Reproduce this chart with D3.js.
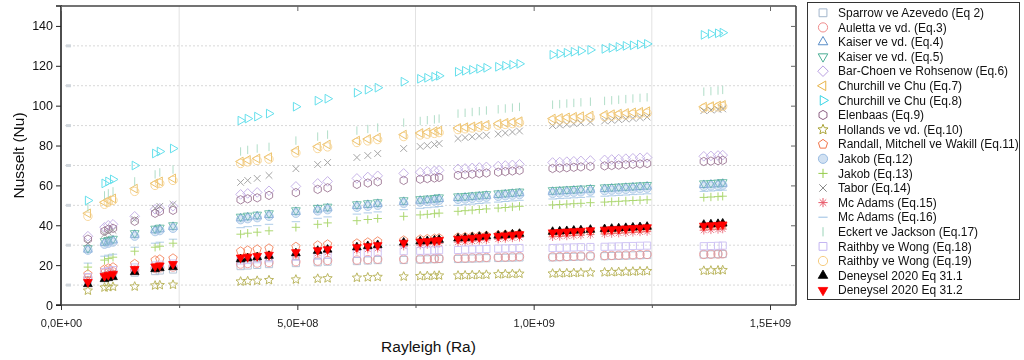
<!DOCTYPE html>
<html><head><meta charset="utf-8">
<script src="https://cdn.jsdelivr.net/npm/d3@7"></script>
<style>body{margin:0;background:#fff}svg{font-family:"Liberation Sans",Arial,sans-serif}</style>
</head><body><svg id="c" width="1024" height="360"></svg>
<script>
// ---- data ----
const rayleigh = [5.7e7, 9.2e7,1.0e8,1.1e8, 1.56e8, 1.99e8,2.09e8, 2.37e8, 3.8e8,3.95e8,4.15e8,4.4e8, 4.97e8, 5.43e8,5.64e8, 6.26e8,6.49e8,6.7e8, 7.25e8,7.6e8,7.75e8,7.9e8,8.0e8, 8.4e8,8.55e8,8.7e8,8.85e8,9.0e8,9.25e8,9.4e8,9.55e8,9.7e8, 1.04e9,1.055e9,1.07e9,1.085e9,1.1e9,1.12e9,1.15e9,1.165e9,1.18e9,1.195e9,1.21e9,1.225e9,1.24e9, 1.36e9,1.375e9,1.39e9,1.40e9];

const sparrowEq2 = [12.5, 14.5,15,15.3, 16.2, 17,17.3, 17.8, 19.5,19.8,20.1,20.5, 21, 21.4,21.7, 22,22.3,22.5, 22.6,22.8,22.9,23,23.1, 23.1,23.2,23.3,23.4,23.5,23.6,23.7,23.8,23.9, 23.9,24,24.1,24.2,24.3,24.4,24.5,24.6,24.7,24.8,24.9,25,25.1, 25.3,25.4,25.5,25.6];
const aulettaEq3 = [13.5, 16,16.3,16.6, 17.5, 18.3,18.6, 19, 20.5,20.8,21,21.3, 21.7, 22,22.3, 22.6,22.8,23, 23,23.1,23.2,23.3,23.4, 23.5,23.6,23.7,23.8,23.9,24,24.1,24.2,24.3, 24.2,24.3,24.4,24.5,24.6,24.7,24.8,24.9,25,25.1,25.2,25.3,25.4, 25.4,25.5,25.6,25.7];
const kaiserEq4 = [27.8, 31.2,31.8,32.4, 35.2, 37.5,38, 39.2, 43.5,44,44.5,45.2, 46.7, 47.9,48.5, 49.7,50.2,50.7, 51.7,52.3,52.6,52.9,53.2, 53.7,53.9,54.2,54.5,54.8,55.2,55.5,55.8,56.1, 56.8,57,57.2,57.4,57.6,57.9,58.2,58.4,58.6,58.8,59,59.2,59.4, 60.2,60.4,60.6,60.8];
const kaiserEq5 = [28.5, 32,32.6,33.2, 36, 38.3,38.8, 40, 44.3,44.8,45.3,46, 47.5, 48.7,49.3, 50.5,51,51.5, 52.5,53.1,53.4,53.7,54, 54.5,54.7,55,55.3,55.6,56,56.3,56.6,56.9, 57.6,57.8,58,58.2,58.4,58.7,59,59.2,59.4,59.6,59.8,60,60.2, 61,61.2,61.4,61.6];
const barChoenEq6 = [34.5, 39,40,40.5, 44.5, 48,48.5, 49.5, 55.5,56,56.5,57.3, 59.5, 61,62, 63.5,64.2,64.8, 66,66.6,67,67.3,67.6, 68.3,68.5,68.8,69,69.3,69.7,70,70.3,70.6, 71.5,71.7,71.9,72.1,72.3,72.5,72.8,73,73.2,73.4,73.6,73.8,74, 74.6,74.8,75,75.2];
const churchillEq7 = [46, 51.5,52.5,53.5, 58.4, 61,62, 63.5, 72,72.8,73.5,74.2, 77.5, 79.5,80.5, 82.5,83.3,84, 85.5,86.3,86.7,87.2,87.5, 88.8,89.2,89.6,90,90.4,91,91.4,91.8,92.2, 93.5,93.8,94.1,94.4,94.7,95,95.4,95.7,96,96.3,96.6,96.9,97.2, 99.5,99.8,100.1,100.4];
const churchillEq8 = [52.4, 61,62,63, 70, 76,77, 78.5, 92.5,93.5,94.5,96, 99.5, 102.5,103.5, 106.5,108,109, 112,113.5,114,114.5,115, 117,117.5,118,118.5,119,119.5,120,120.5,121, 125.5,126,126.5,127,127.5,128,128.5,129,129.5,130,130.3,130.7,131, 135.5,136,136.3,136.6];
const elenbaasEq9 = [33, 37,38,38.5, 42, 46,47, 47.5, 52.8,53.3,53.8,55, 56.4, 58,58.8, 60.5,61.2,61.8, 62.5,63.1,63.4,63.7,64, 65,65.3,65.6,65.9,66.2,66.6,66.9,67.2,67.5, 68.5,68.7,68.9,69.1,69.3,69.5,69.8,70,70.2,70.4,70.6,70.8,71, 72,72.2,72.4,72.6];
const hollandsEq10 = [7.2, 8.8,9,9.2, 9.3, 9.8,10, 10.2, 11.8,12,12.2,12.5, 12.8, 13.2,13.4, 13.7,13.9,14.1, 14.3,14.5,14.6,14.7,14.8, 14.8,14.9,15,15.1,15.2,15.4,15.5,15.6,15.7, 15.8,15.9,16,16.1,16.2,16.3,16.4,16.5,16.6,16.7,16.8,16.9,17, 17.2,17.3,17.4,17.5];
const randallEq11 = [15.5, 18,18.5,19, 20.7, 22.5,23, 23.5, 27,27.5,28,28.5, 29.3, 30,30.5, 31,31.5,32, 32.5,33,33.2,33.4,33.6, 34,34.2,34.4,34.6,34.8,35.1,35.3,35.5,35.7, 36,36.2,36.4,36.6,36.8,37,37.3,37.5,37.7,37.9,38.1,38.3,38.5, 39.5,39.7,39.9,40.1];
const jakobEq12 = [27.5, 30.5,31,31.6, 34.5, 36.8,37.3, 38.5, 42.8,43.3,43.8,44.5, 46, 47.2,47.8, 49,49.5,50, 51,51.6,51.9,52.2,52.5, 53,53.2,53.5,53.8,54.1,54.5,54.8,55.1,55.4, 56,56.2,56.4,56.6,56.8,57.1,57.4,57.6,57.8,58,58.2,58.4,58.6, 59.5,59.7,59.9,60.1];
const jakobEq13 = [19, 22.5,23.3,24, 27, 29,29.5, 31, 35.5,36,36.5,37.2, 39, 40.5,41.2, 42.3,42.9,43.4, 44.5,45.2,45.5,45.8,46.1, 47,47.3,47.6,47.9,48.2,48.6,48.9,49.2,49.5, 50.2,50.4,50.6,50.8,51,51.3,51.6,51.8,52,52.2,52.4,52.6,52.8, 54,54.2,54.4,54.6];
const taborEq14 = [31, 35.5,36.5,37.5, 43, 48.5,49.5, 50.5, 61.5,62.5,63.5,65, 68.4, 70.5,71.5, 74,75,76, 78.5,79.5,80,80.5,81, 83.5,84,84.4,84.8,85.2,85.8,86.3,86.8,87.3, 90,90.3,90.6,91,91.4,91.8,92.3,92.6,93,93.3,93.6,94,94.3, 97.5,97.8,98.1,98.4];
const mcAdamsEq15 = [12.5, 15,15.5,16, 17.5, 19,19.5, 20, 22.8,23.2,23.6,24.2, 25.2, 26,26.5, 27.5,28,28.4, 29.5,30,30.3,30.6,30.9, 31.5,31.7,32,32.3,32.6,33,33.3,33.6,33.9, 34.2,34.4,34.6,34.8,35,35.3,35.6,35.8,36,36.2,36.4,36.6,36.8, 37.5,37.7,37.9,38.1];
const mcAdamsEq16 = [21, 24.5,25,25.5, 29, 31,31.5, 33, 38.8,39.3,39.8,40.5, 41.8, 43.5,44.2, 45.6,46.2,46.7, 47.8,48.5,48.8,49.1,49.4, 50,50.3,50.6,50.9,51.2,51.6,51.9,52.2,52.5, 53.2,53.4,53.6,53.8,54,54.3,54.6,54.8,55,55.2,55.4,55.6,55.8, 57,57.2,57.4,57.6];
const eckertEq17 = [49, 55,56,57, 62, 65.5,66.5, 68, 77,77.8,78.5,79.3, 82.5, 84.5,85.5, 87.5,88.3,89, 91.5,92.3,92.7,93.1,93.5, 96,96.4,96.8,97.2,97.6,98.2,98.6,99,99.4, 100.5,100.8,101.1,101.4,101.7,102,102.4,102.7,103,103.3,103.6,103.9,104.2, 107,107.3,107.6,107.9];
const raithbyEq18 = [14, 16.5,17,17.5, 18.8, 19.8,20.2, 20.8, 22.3,22.6,23,23.5, 24.2, 24.8,25.2, 25.8,26.2,26.5, 27,27.2,27.3,27.4,27.5, 27.6,27.8,27.9,28,28.1,28.3,28.4,28.5,28.6, 28.6,28.7,28.8,28.9,29,29.1,29.2,29.3,29.4,29.5,29.6,29.7,29.8, 29.5,29.6,29.7,29.8];
const raithbyEq19 = [44.5, 50.5,51.5,52.5, 57, 60,61, 62.5, 71,71.8,72.5,73.2, 76.3, 78.5,79.3, 81.5,82.3,83, 84.5,85.3,85.7,86.1,86.5, 88,88.4,88.8,89.2,89.6,90.2,90.6,91,91.4, 92.5,92.8,93.1,93.4,93.7,94,94.4,94.7,95,95.3,95.6,95.9,96.2, 98.8,99.1,99.4,99.7];
const deneysel311 = [10.5, 13,13.5,14, 16.5, 18,18.5, 19, 23,23.5,24,24.7, 26, 27.2,27.8, 29,29.6,30.1, 31.3,31.9,32.1,32.4,32.7, 33.4,33.6,33.9,34.2,34.5,34.8,35.1,35.4,35.7, 36.7,36.9,37.1,37.3,37.5,37.8,38.1,38.3,38.5,38.7,38.9,39.1,39.3, 40.3,40.5,40.7,40.9];
const deneysel312 = [11.5, 14.5,15,15.5, 18, 19.3,19.8, 20.5, 23.8,24.2,24.6,25.2, 26.5, 27.5,28, 29,29.5,30, 31.2,31.8,32,32.3,32.6, 33.2,33.4,33.7,34,34.3,34.6,34.9,35.2,35.5, 36.4,36.6,36.8,37,37.2,37.5,37.8,38,38.2,38.4,38.6,38.8,39, 39.8,40,40.2,40.4];

const seriesNames = ["Sparrow ve Azevedo (Eq 2)","Auletta ve vd. (Eq.3)","Kaiser ve vd. (Eq.4)","Kaiser ve vd. (Eq.5)","Bar-Choen ve Rohsenow (Eq.6)","Churchill ve Chu (Eq.7)","Churchill ve Chu (Eq.8)","Elenbaas (Eq.9)","Hollands ve vd. (Eq.10)","Randall, Mitchell ve Wakill (Eq.11)","Jakob (Eq.12)","Jakob (Eq.13)","Tabor (Eq.14)","Mc Adams (Eq.15)","Mc Adams (Eq.16)","Eckert ve Jackson (Eq.17)","Raithby  ve Wong (Eq.18)","Raithby  ve Wong (Eq.19)","Deneysel 2020 Eq 31.1","Deneysel 2020 Eq 31.2"];
const seriesValues = [sparrowEq2,aulettaEq3,kaiserEq4,kaiserEq5,barChoenEq6,churchillEq7,churchillEq8,elenbaasEq9,hollandsEq10,randallEq11,jakobEq12,jakobEq13,taborEq14,mcAdamsEq15,mcAdamsEq16,eckertEq17,raithbyEq18,raithbyEq19,deneysel311,deneysel312];
const seriesMarkers = ["square","circle","up","down","diamond","left","right","hexagon","star","pentagon","sphere","plus","cross","asterisk","hline","vline","rsquare","circle","upFill","downFill"];
const seriesColors = ["#a3b6cc","#f08c8c","#5a8ec8","#4aae94","#b9a0e2","#e8b448","#3ad6e6","#8e6284","#aaa436","#f27448","#9abce2","#95cc4a","#8a8a8a","#e85a6a","#98bee2","#9ad4b8","#c4b6f2","#f6cc80","#000000","#ff0000"];

const xTickValues = [0, 5e8, 1e9, 1.5e9];
const xTickLabels = ["0,0E+00","5,0E+08","1,0E+09","1,5E+09"];
const xMinorTicks = [2.5e8, 7.5e8, 1.25e9];
const yTickValues = [0,20,40,60,80,100,120,140];
const yMinorGrid = [10,30,50,70,90,110,130];

// ---- drawing ----
const svg = d3.select("#c");
const L = 61, R = 796, T = 6, B = 305;
const x = d3.scaleLinear().domain([0, 1.555e9]).range([L, R]);
const y = d3.scaleLinear().domain([0, 150]).range([B, T]);

function poly(n, r, rotDeg) {
  const pts = [];
  for (let i = 0; i < n; i++) {
    const a = (rotDeg + i * 360 / n) * Math.PI / 180;
    pts.push([r * Math.cos(a), r * Math.sin(a)]);
  }
  return "M" + pts.map(p => p[0].toFixed(2) + "," + p[1].toFixed(2)).join("L") + "Z";
}
function starPath(r) {
  const pts = [];
  for (let i = 0; i < 10; i++) {
    const a = (-90 + i * 36) * Math.PI / 180;
    const rr = i % 2 ? r * 0.45 : r;
    pts.push([rr * Math.cos(a), rr * Math.sin(a)]);
  }
  return "M" + pts.map(p => p[0].toFixed(2) + "," + p[1].toFixed(2)).join("L") + "Z";
}
function markerPath(type, r) {
  switch (type) {
    case "square": return `M${-r*0.85},${-r*0.85}H${r*0.85}V${r*0.85}H${-r*0.85}Z`;
    case "rsquare": return `M${-r*0.85},${-r*0.85}H${r*0.85}V${r*0.85}H${-r*0.85}Z`;
    case "circle": case "sphere": return `M${r},0A${r},${r} 0 1,1 ${-r},0A${r},${r} 0 1,1 ${r},0Z`;
    case "up": case "upFill": return poly(3, r*1.2, -90);
    case "down": case "downFill": return poly(3, r*1.2, 90);
    case "left": return poly(3, r*1.2, 180);
    case "right": return poly(3, r*1.2, 0);
    case "diamond": return poly(4, r*1.15, -90);
    case "hexagon": return poly(6, r, -90);
    case "pentagon": return poly(5, r*1.05, -90);
    case "star": return starPath(r*1.15);
    case "plus": return `M${-r},0H${r}M0,${-r}V${r}`;
    case "cross": return `M${-r*0.8},${-r*0.8}L${r*0.8},${r*0.8}M${-r*0.8},${r*0.8}L${r*0.8},${-r*0.8}`;
    case "asterisk": return `M${-r},0H${r}M0,${-r}V${r}M${-r*0.7},${-r*0.7}L${r*0.7},${r*0.7}M${-r*0.7},${r*0.7}L${r*0.7},${-r*0.7}`;
    case "hline": return `M${-r},0H${r}`;
    case "vline": return `M0,${-r}V${r}`;
  }
}
function styleMarker(sel, type, color) {
  if (type === "upFill" || type === "downFill") {
    sel.attr("fill", color).attr("stroke", color).attr("stroke-width", 0.8);
  } else if (type === "sphere") {
    sel.attr("fill", color).attr("fill-opacity", 0.45).attr("stroke", color).attr("stroke-width", 1);
  } else {
    sel.attr("fill", "none").attr("stroke", color).attr("stroke-width", 1);
  }
}

// grid
const grid = svg.append("g");
grid.selectAll("line.h").data(yMinorGrid).join("line")
  .attr("x1", L + 4).attr("x2", R - 2).attr("y1", d => y(d)).attr("y2", d => y(d))
  .attr("stroke", "#d8d8d8").attr("stroke-width", 1).attr("stroke-dasharray", "2,2");
grid.selectAll("rect.h").data(yMinorGrid).join("rect")
  .attr("x", L + 5).attr("y", d => y(d) - 1.5).attr("width", 5).attr("height", 3)
  .attr("fill", "#d0d6dc");
grid.selectAll("line.v").data(xMinorTicks).join("line")
  .attr("x1", d => x(d)).attr("x2", d => x(d)).attr("y1", T).attr("y2", B)
  .attr("stroke", "#e2e2e2").attr("stroke-width", 1);

// data
const plot = svg.append("g");
seriesValues.forEach((vals, si) => {
  const type = seriesMarkers[si], color = seriesColors[si];
  const n = Math.min(vals.length, rayleigh.length);
  const pts = d3.range(n).map(i => [rayleigh[i], vals[i]]);
  const g = plot.append("g").attr("opacity", si >= 18 ? 1 : 0.78);
  const s = g.selectAll("path").data(pts).join("path")
    .attr("d", markerPath(type, 4.2))
    .attr("transform", d => `translate(${x(d[0]).toFixed(1)},${y(d[1]).toFixed(1)})`);
  styleMarker(s, type, color);
});

// frame
svg.append("line").attr("x1", L).attr("x2", R).attr("y1", T).attr("y2", T).attr("stroke", "#444").attr("stroke-width", 1.6);
svg.append("line").attr("x1", R).attr("x2", R).attr("y1", T).attr("y2", B).attr("stroke", "#444").attr("stroke-width", 1.6);

// axes
const yAxis = d3.axisLeft(y).tickValues(yTickValues).tickSize(5).tickPadding(3);
const gy = svg.append("g").attr("transform", `translate(${L},0)`).call(yAxis);
gy.select(".domain").attr("stroke", "#222").attr("stroke-width", 1.6).attr("d", `M-5,${T}H0V${B}H-5`);
gy.selectAll(".tick line").attr("stroke", "#222");
gy.selectAll(".tick text").attr("font-size", 12.5).attr("fill", "#111").attr("font-family", "Liberation Sans, Arial, sans-serif");

const xAxis = d3.axisBottom(x).tickValues(xTickValues).tickSize(5).tickPadding(9)
  .tickFormat((d, i) => xTickLabels[i]);
const gx = svg.append("g").attr("transform", `translate(0,${B})`).call(xAxis);
gx.select(".domain").attr("stroke", "#444").attr("stroke-width", 1.6).attr("d", `M${L},0H${R}`);
gx.selectAll(".tick line").attr("stroke", "#333");
gx.selectAll(".tick text").attr("font-size", 11).attr("fill", "#222").attr("font-family", "Liberation Sans, Arial, sans-serif");
const gxm = svg.append("g").attr("transform", `translate(0,${B})`)
  .call(d3.axisBottom(x).tickValues(xMinorTicks).tickSize(3).tickFormat(""));
gxm.select(".domain").remove();
gxm.selectAll(".tick line").attr("stroke", "#555");

// top & right inner ticks
const gt = svg.append("g").attr("transform", `translate(0,${T})`)
  .call(d3.axisTop(x).tickValues(xTickValues).tickSize(-5).tickFormat(""));
gt.select(".domain").remove();
gt.selectAll(".tick line").attr("stroke", "#666");
const gr = svg.append("g").attr("transform", `translate(${R},0)`)
  .call(d3.axisRight(y).tickValues(yTickValues).tickSize(-5).tickFormat(""));
gr.select(".domain").remove();
gr.selectAll(".tick line").attr("stroke", "#666");

// titles
svg.append("text").attr("x", (L + R) / 2).attr("y", 352).attr("text-anchor", "middle")
  .attr("font-size", 15.5).attr("fill", "#111").text("Rayleigh (Ra)");
svg.append("text").attr("transform", `translate(24,${(T + B) / 2}) rotate(-90)`).attr("text-anchor", "middle")
  .attr("font-size", 15.5).attr("fill", "#111").text("Nusselt (Nu)");

// legend
const lg = svg.append("g");
lg.append("rect").attr("x", 807.5).attr("y", 2.5).attr("width", 212).attr("height", 297)
  .attr("fill", "#fff").attr("stroke", "#333").attr("stroke-width", 1);
seriesNames.forEach((name, i) => {
  const cy = 12.8 + i * 14.6;
  const m = lg.append("path").attr("d", markerPath(seriesMarkers[i], 4.6))
    .attr("transform", `translate(823,${cy})`);
  styleMarker(m, seriesMarkers[i], seriesColors[i]);
  lg.append("text").attr("x", 838).attr("y", cy + 4.2).attr("font-size", 12).attr("fill", "#111").text(name);
});
</script>
</body></html>
